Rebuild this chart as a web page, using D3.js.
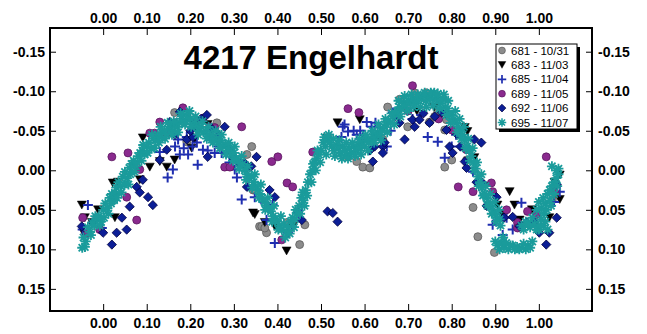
<!DOCTYPE html>
<html>
<head>
<meta charset="utf-8">
<script src="https://cdn.jsdelivr.net/npm/d3@7"></script>
<style>
  html, body { margin: 0; padding: 0; background: #fff; }
  svg { display: block; font-family: "Liberation Sans", Arial, sans-serif; }
  .tick text { font-weight: bold; font-size: 14px; fill: #000; }
  .tick line { stroke: #000; stroke-width: 1; }
</style>
</head>
<body>
<svg id="chart" width="647" height="334"></svg>
<script>
// Lightcurve of 4217 Engelhardt — phase vs. relative magnitude, one array per night.
const title = '4217 Engelhardt';
const seriesNames = ['681 - 10/31', '683 - 11/03', '685 - 11/04', '689 - 11/05', '692 - 11/06', '695 - 11/07'];
const xTicks = [0, 0.1, 0.2, 0.3, 0.4, 0.5, 0.6, 0.7, 0.8, 0.9, 1.0];
const yTicks = [-0.15, -0.10, -0.05, 0, 0.05, 0.10, 0.15];

// [phase, mag]
const s681 = [[0.164,-0.073],[0.192,-0.036],[0.261,-0.060],[0.330,-0.020],[0.341,-0.030],[0.344,0.025],[0.348,0.025],
  [0.359,0.071],[0.364,0.071],[0.375,0.079],[0.371,0.073],[0.422,0.066],[0.451,0.094],[0.463,0.069],[0.562,-0.017],
  [0.582,-0.011],[0.596,-0.004],[0.612,-0.003],[0.642,-0.039],[0.653,-0.080],[0.681,-0.090],[0.699,-0.055],[0.715,-0.098],
  [0.742,-0.098],[0.749,-0.061],[0.761,-0.068],[0.768,-0.074],[0.788,-0.064],[0.784,-0.051],[0.784,-0.004],[0.800,-0.013],
  [0.834,-0.013],[0.849,0.047],[0.860,0.084],[0.898,0.104],[1.031,0.037]];
const s683 = [[-0.049,0.044],[-0.044,0.080],[-0.042,0.060],[-0.026,0.066],[-0.012,0.050],[0.022,0.016],[0.027,0.060],
  [0.034,0.015],[0.084,0.012],[0.091,-0.041],[0.107,-0.004],[0.130,-0.011],[0.146,-0.004],[0.164,-0.013],[0.203,-0.028],
  [0.210,-0.039],[0.240,-0.058],[0.344,0.054],[0.348,0.056],[0.371,0.066],[0.394,0.071],[0.421,0.102],[0.435,0.071],
  [0.515,-0.041],[0.538,-0.060],[0.589,-0.064],[0.720,-0.075],[0.760,-0.080],[0.788,-0.070],[0.830,-0.054],[0.836,-0.049],
  [0.852,-0.016],[0.905,0.044],[0.917,0.056],[0.933,0.027],[0.944,0.044],[0.956,0.063],[0.984,0.050],[1.024,0.060],
  [1.036,0.015],[1.048,0.006],[1.048,0.037]];
const s685 = [[-0.047,0.075],[-0.035,0.044],[-0.003,0.073],[0.130,-0.023],[0.148,0.009],[0.160,-0.001],[0.172,-0.039],
  [0.176,-0.020],[0.192,-0.042],[0.195,-0.020],[0.215,-0.035],[0.217,-0.007],[0.229,-0.026],[0.256,-0.022],[0.272,-0.022],
  [0.283,-0.022],[0.302,-0.001],[0.307,0.009],[0.318,0.037],[0.348,0.034],[0.371,0.041],[0.375,0.063],[0.389,0.044],
  [0.394,0.092],[0.424,0.079],[0.433,0.071],[0.456,0.046],[0.447,0.054],[0.547,-0.042],[0.550,-0.055],[0.562,-0.049],
  [0.554,-0.058],[0.582,-0.045],[0.596,-0.045],[0.605,-0.061],[0.616,-0.055],[0.635,-0.054],[0.651,-0.030],[0.665,-0.073],
  [0.674,-0.073],[0.696,-0.079],[0.745,-0.042],[0.768,-0.036],[0.784,-0.016],[0.849,0.002],[0.894,0.069],[0.917,0.082],
  [0.926,0.060],[0.960,0.041],[1.048,0.027],[0.165,-0.030],[0.185,-0.028],[0.205,-0.030],[0.240,-0.025],[0.265,-0.030],
  [0.290,-0.010],[0.575,-0.050],[0.590,-0.050],[0.625,-0.060],[0.660,-0.050],[0.710,-0.065],[0.730,-0.070],[0.800,-0.030],
  [0.810,-0.045],[0.900,0.055],[0.940,0.075],[1.035,0.040]];
const s689 = [[-0.047,0.060],[-0.035,0.079],[-0.008,0.075],[0.020,-0.017],[0.054,0.034],[0.057,-0.022],[0.077,0.063],
  [0.084,-0.001],[0.107,-0.047],[0.118,-0.047],[0.130,-0.061],[0.146,-0.047],[0.164,-0.060],[0.183,-0.079],[0.229,-0.066],
  [0.245,-0.055],[0.256,-0.054],[0.279,-0.004],[0.291,-0.004],[0.318,-0.055],[0.387,-0.011],[0.401,-0.017],[0.410,0.088],
  [0.422,0.016],[0.435,0.021],[0.481,-0.023],[0.562,-0.078],[0.587,-0.073],[0.700,-0.075],[0.710,-0.107],[0.770,-0.065],
  [0.800,-0.051],[0.815,0.021],[0.834,-0.026],[0.849,0.027],[0.891,0.016],[0.894,0.027],[0.926,0.050],[0.951,0.066],
  [0.951,0.073],[0.974,0.052],[0.995,0.056],[1.017,-0.017],[1.036,0.027]];
const s692 = [[-0.049,0.071],[-0.024,0.066],[0.000,0.079],[0.020,0.094],[0.031,0.079],[0.054,0.075],[0.043,0.060],
  [0.061,0.046],[0.077,0.021],[0.091,0.012],[0.103,0.034],[0.114,0.044],[0.084,0.028],[0.130,-0.013],[0.146,-0.026],
  [0.153,-0.061],[0.176,-0.074],[0.192,-0.039],[0.206,-0.042],[0.215,-0.055],[0.210,-0.060],[0.225,-0.065],[0.238,-0.070],
  [0.250,-0.052],[0.279,-0.055],[0.240,-0.017],[0.295,-0.022],[0.300,-0.015],[0.309,-0.011],[0.315,-0.010],[0.325,-0.009],
  [0.332,-0.004],[0.340,-0.005],[0.352,-0.017],[0.330,0.021],[0.382,0.025],[0.394,0.034],[0.456,0.063],[0.515,0.052],
  [0.538,0.065],[0.527,0.054],[0.612,-0.025],[0.619,-0.011],[0.623,-0.030],[0.642,-0.030],[0.646,-0.035],[0.642,-0.022],
  [0.692,-0.039],[0.669,-0.068],[0.710,-0.064],[0.715,-0.055],[0.726,-0.064],[0.749,-0.060],[0.761,-0.068],[0.777,-0.073],
  [0.788,-0.051],[0.813,-0.045],[0.795,-0.030],[0.802,-0.022],[0.830,-0.011],[0.834,-0.003],[0.852,-0.039],[0.868,-0.035],
  [0.857,0.015],[0.871,0.016],[0.903,0.034],[0.956,0.071],[0.940,0.059],[0.972,0.066],[1.001,0.079],[1.024,0.079],
  [1.041,0.060],[1.017,0.094],[1.041,0.018],[0.165,-0.045],[0.200,-0.050],[0.265,-0.045],[0.285,-0.030],[0.600,-0.040],
  [0.630,-0.045],[0.680,-0.060],[0.735,-0.072],[0.820,-0.030],[0.880,0.045],[0.920,0.060],[0.990,0.065]];
const s695 = [[-0.048,0.098],[-0.042,0.097],[-0.045,0.085],[-0.035,0.072],[-0.030,0.078],[-0.025,0.066],[-0.020,0.070],
  [-0.015,0.062],[-0.010,0.058],[-0.005,0.065],[0.000,0.050],[0.005,0.042],[0.010,0.048],[0.015,0.035],[0.020,0.030],
  [0.025,0.038],[0.030,0.022],[0.035,0.015],[0.040,0.020],[0.045,0.008],[0.050,0.002],[0.055,0.010],[0.060,-0.003],
  [0.065,-0.008],[0.070,-0.012],[0.075,-0.005],[0.080,-0.018],[0.085,-0.022],[0.090,-0.025],[0.095,-0.020],[0.100,-0.030],
  [0.105,-0.035],[0.110,-0.028],[0.115,-0.040],[0.120,-0.038],[0.125,-0.045],[0.130,-0.042],[0.135,-0.048],[0.140,-0.050],
  [0.145,-0.045],[0.150,-0.052],[0.155,-0.055],[0.160,-0.050],[0.165,-0.058],[0.170,-0.055],[0.175,-0.060],[0.180,-0.065],
  [0.185,-0.070],[0.190,-0.062],[0.195,-0.068],[0.200,-0.065],[0.205,-0.058],[0.210,-0.060],[0.215,-0.055],[0.220,-0.050],
  [0.225,-0.055],[0.230,-0.048],[0.235,-0.050],[0.240,-0.045],[0.245,-0.042],[0.250,-0.045],[0.255,-0.038],[0.260,-0.040],
  [0.265,-0.035],[0.270,-0.038],[0.275,-0.030],[0.280,-0.033],[0.285,-0.028],[0.290,-0.025],[0.295,-0.020],[0.300,-0.022],
  [0.305,-0.015],[0.310,-0.012],[0.315,-0.005],[0.320,-0.008],[0.325,0.000],[0.330,0.005],[0.335,0.010],[0.340,0.008],
  [0.345,0.015],[0.350,0.020],[0.355,0.025],[0.360,0.030],[0.365,0.035],[0.370,0.040],[0.375,0.045],[0.380,0.048],
  [0.385,0.052],[0.390,0.058],[0.395,0.062],[0.400,0.065],[0.405,0.070],[0.410,0.075],[0.415,0.068],[0.420,0.078],
  [0.425,0.072],[0.430,0.065],[0.435,0.060],[0.440,0.062],[0.445,0.055],[0.450,0.045],[0.455,0.035],[0.460,0.038],
  [0.465,0.025],[0.470,0.015],[0.475,0.005],[0.480,0.000],[0.485,-0.010],[0.490,-0.015],[0.495,-0.020],[0.500,-0.025],
  [0.505,-0.035],[0.510,-0.030],[0.515,-0.038],[0.520,-0.035],[0.525,-0.030],[0.530,-0.025],[0.535,-0.032],[0.540,-0.028],
  [0.545,-0.022],[0.550,-0.030],[0.555,-0.025],[0.560,-0.020],[0.565,-0.028],[0.570,-0.022],[0.575,-0.030],[0.580,-0.025],
  [0.585,-0.032],[0.590,-0.028],[0.595,-0.035],[0.600,-0.030],[0.605,-0.038],[0.610,-0.035],[0.615,-0.040],[0.620,-0.045],
  [0.625,-0.042],[0.630,-0.048],[0.635,-0.045],[0.640,-0.050],[0.645,-0.055],[0.650,-0.058],[0.655,-0.062],[0.660,-0.060],
  [0.665,-0.068],[0.670,-0.072],[0.675,-0.075],[0.680,-0.080],[0.685,-0.078],[0.690,-0.085],[0.695,-0.082],[0.700,-0.088],
  [0.705,-0.085],[0.710,-0.090],[0.715,-0.088],[0.720,-0.085],[0.725,-0.092],[0.730,-0.090],[0.735,-0.095],[0.740,-0.088],
  [0.745,-0.092],[0.750,-0.095],[0.755,-0.090],[0.760,-0.098],[0.765,-0.092],[0.770,-0.088],[0.775,-0.085],[0.780,-0.090],
  [0.785,-0.080],[0.790,-0.078],[0.795,-0.070],[0.800,-0.070],[0.805,-0.065],[0.810,-0.060],[0.815,-0.055],[0.820,-0.050],
  [0.825,-0.045],[0.830,-0.038],[0.835,-0.030],[0.840,-0.025],[0.845,-0.018],[0.850,-0.010],[0.855,-0.002],[0.860,0.008],
  [0.865,0.015],[0.870,0.022],[0.875,0.030],[0.880,0.035],[0.885,0.040],[0.890,0.045],[0.895,0.050],[0.900,0.055],
  [0.905,0.060],[0.910,0.062],[0.900,0.090],[0.905,0.095],[0.910,0.100],[0.915,0.092],[0.920,0.098],[0.930,0.100],
  [0.940,0.095],[0.950,0.097],[0.955,0.100],[0.960,0.098],[0.970,0.100],[0.975,0.095],[0.980,0.098],[0.960,0.070],
  [0.965,0.075],[0.970,0.065],[0.980,0.072],[0.990,0.068],[1.000,0.075],[1.005,0.062],[1.010,0.070],[1.015,0.065],
  [1.020,0.075],[0.995,0.050],[1.000,0.040],[1.005,0.048],[1.010,0.035],[1.015,0.042],[1.020,0.030],[1.025,0.038],
  [1.030,0.020],[1.035,0.015],[1.040,0.010],[1.045,0.005],[1.030,-0.005],[1.040,0.000],
  // second, looser band of the same night
  [-0.040,0.090],[-0.028,0.082],[-0.018,0.058],[-0.008,0.070],[0.002,0.060],[0.012,0.055],[0.018,0.042],[0.028,0.030],
  [0.032,0.035],[0.042,0.028],[0.048,0.018],[0.058,0.018],[0.062,0.005],[0.072,0.002],[0.078,-0.010],[0.088,-0.012],
  [0.092,-0.032],[0.102,-0.022],[0.112,-0.045],[0.118,-0.028],[0.128,-0.035],[0.132,-0.055],[0.142,-0.040],[0.148,-0.060],
  [0.158,-0.045],[0.162,-0.062],[0.172,-0.048],[0.178,-0.072],[0.188,-0.058],[0.198,-0.075],[0.202,-0.055],[0.212,-0.068],
  [0.218,-0.045],[0.228,-0.062],[0.238,-0.040],[0.242,-0.055],[0.252,-0.035],[0.258,-0.050],[0.268,-0.028],[0.272,-0.045],
  [0.282,-0.020],[0.288,-0.035],[0.298,-0.012],[0.302,-0.030],[0.312,-0.002],[0.318,-0.018],[0.328,0.012],[0.332,-0.005],
  [0.342,0.022],[0.348,0.005],[0.358,0.035],[0.362,0.018],[0.372,0.050],[0.378,0.035],[0.388,0.065],[0.392,0.045],
  [0.402,0.075],[0.408,0.058],[0.418,0.085],[0.428,0.080],[0.438,0.072],[0.442,0.050],[0.452,0.055],[0.458,0.028],
  [0.462,0.045],[0.468,0.032],[0.478,0.015],[0.482,-0.008],[0.488,0.000],[0.492,-0.025],[0.498,-0.010],[0.508,-0.042],
  [0.512,-0.020],[0.518,-0.045],[0.528,-0.040],[0.532,-0.018],[0.542,-0.038],[0.548,-0.015],[0.558,-0.035],[0.562,-0.015],
  [0.572,-0.035],[0.578,-0.018],[0.588,-0.040],[0.592,-0.020],[0.602,-0.045],[0.608,-0.025],[0.618,-0.050],[0.622,-0.035],
  [0.632,-0.058],[0.638,-0.038],[0.648,-0.065],[0.652,-0.048],[0.662,-0.072],[0.668,-0.058],[0.678,-0.088],[0.682,-0.068],
  [0.692,-0.094],[0.698,-0.075],[0.708,-0.096],[0.712,-0.080],[0.722,-0.096],[0.728,-0.080],[0.738,-0.098],[0.742,-0.080],
  [0.752,-0.098],[0.758,-0.082],[0.768,-0.097],[0.772,-0.078],[0.782,-0.096],[0.788,-0.070],[0.792,-0.088],[0.798,-0.060],
  [0.808,-0.075],[0.812,-0.048],[0.818,-0.065],[0.822,-0.040],[0.828,-0.055],[0.832,-0.028],[0.838,-0.040],[0.842,-0.012],
  [0.848,-0.028],[0.852,0.000],[0.858,-0.010],[0.862,0.020],[0.868,0.005],[0.872,0.032],[0.878,0.020],[0.882,0.045],
  [0.888,0.030],[0.892,0.055],[0.898,0.040],[0.902,0.065],[0.908,0.050],[0.912,0.070],[0.918,0.085],[0.925,0.092],
  [0.935,0.095],[0.945,0.100],[0.965,0.093],[0.985,0.090],[0.975,0.068],[0.985,0.060],[0.995,0.075],[1.005,0.070],
  [1.012,0.055],[1.018,0.050],[1.025,0.025],[1.028,0.045],[1.035,0.030],[1.042,0.020],[1.045,-0.002]];

const seriesData = [s681, s683, s685, s689, s692, s695];

// marker styles per night
const markers = [
  { d: d3.symbol(d3.symbolCircle, 50)(), fill: '#8c8c8c', stroke: '#5a5a5a', sw: 0.8 },
  { d: 'M-4.5,-4L4.5,-4L0,4Z', fill: '#000', stroke: '#000', sw: 0.5 },
  { d: 'M-5,0H5M0,-5V5', fill: 'none', stroke: '#1f2eb0', sw: 2 },
  { d: d3.symbol(d3.symbolCircle, 50)(), fill: '#8a2a8e', stroke: '#5a1660', sw: 0.8 },
  { d: 'M0,-4.6L4.6,0L0,4.6L-4.6,0Z', fill: '#0c1e96', stroke: '#000040', sw: 0.8 },
  { d: 'M-5,0H5M0,-5V5M-3.6,-3.6L3.6,3.6M-3.6,3.6L3.6,-3.6', fill: 'none', stroke: '#1a9b9b', sw: 1.8 }
];

const svg = d3.select('#chart');
const plotL = 50, plotR = 592, plotT = 28, plotB = 311;

const x = d3.scaleLinear().domain([-0.122, 1.122]).range([plotL, plotR]);
const y = d3.scaleLinear().domain([-0.18, 0.178]).range([plotT, plotB]);

const fmt = d3.format('.2f');

svg.append('g').attr('transform', `translate(0,${plotT})`)
  .call(d3.axisTop(x).tickValues(xTicks).tickSize(-7).tickPadding(5).tickFormat(fmt));
svg.append('g').attr('transform', `translate(0,${plotB})`)
  .call(d3.axisBottom(x).tickValues(xTicks).tickSize(-7).tickPadding(7).tickFormat(fmt));
svg.append('g').attr('transform', `translate(${plotL},0)`)
  .call(d3.axisLeft(y).tickValues(yTicks).tickSize(-6).tickPadding(5).tickFormat(fmt));
svg.append('g').attr('transform', `translate(${plotR},0)`)
  .call(d3.axisRight(y).tickValues(yTicks).tickSize(-6).tickPadding(6).tickFormat(fmt));
svg.selectAll('.domain').remove();
svg.selectAll('.tick text').text(function () { return this.textContent.replace('\u2212', '-'); });

// data marks, drawn night by night in legend order
const marks = svg.append('g');
seriesData.forEach((pts, i) => {
  const m = markers[i];
  marks.append('g').selectAll('path')
    .data(pts)
    .join('path')
    .attr('transform', (d) => `translate(${x(d[0])},${y(d[1])})`)
    .attr('d', m.d)
    .attr('fill', m.fill)
    .attr('stroke', m.stroke)
    .attr('stroke-width', m.sw);
});

// frame
svg.append('rect')
  .attr('x', plotL).attr('y', plotT)
  .attr('width', plotR - plotL).attr('height', plotB - plotT)
  .attr('fill', 'none').attr('stroke', '#000').attr('stroke-width', 2);

// title
svg.append('text')
  .attr('x', 311).attr('y', 69)
  .attr('text-anchor', 'middle')
  .attr('font-weight', 'bold')
  .attr('font-size', 33)
  .text(title);

// legend with drop shadow
const lg = svg.append('g').attr('transform', 'translate(496,44)');
lg.append('rect').attr('x', 3).attr('y', 3).attr('width', 81).attr('height', 85).attr('fill', '#000');
lg.append('rect').attr('width', 81).attr('height', 85).attr('fill', '#fff').attr('stroke', '#000').attr('stroke-width', 1);
const row = lg.selectAll('g.row')
  .data(seriesNames)
  .join('g')
  .attr('class', 'row')
  .attr('transform', (d, i) => `translate(0,${6.5 + i * 14.4})`);
row.append('path')
  .attr('transform', 'translate(6,0) scale(0.85)')
  .attr('d', (d, i) => markers[i].d)
  .attr('fill', (d, i) => markers[i].fill)
  .attr('stroke', (d, i) => markers[i].stroke)
  .attr('stroke-width', (d, i) => markers[i].sw);
row.append('text')
  .attr('x', 15)
  .attr('dy', '0.35em')
  .attr('font-size', 11.5)
  .text((d) => d);
</script>
</body>
</html>
